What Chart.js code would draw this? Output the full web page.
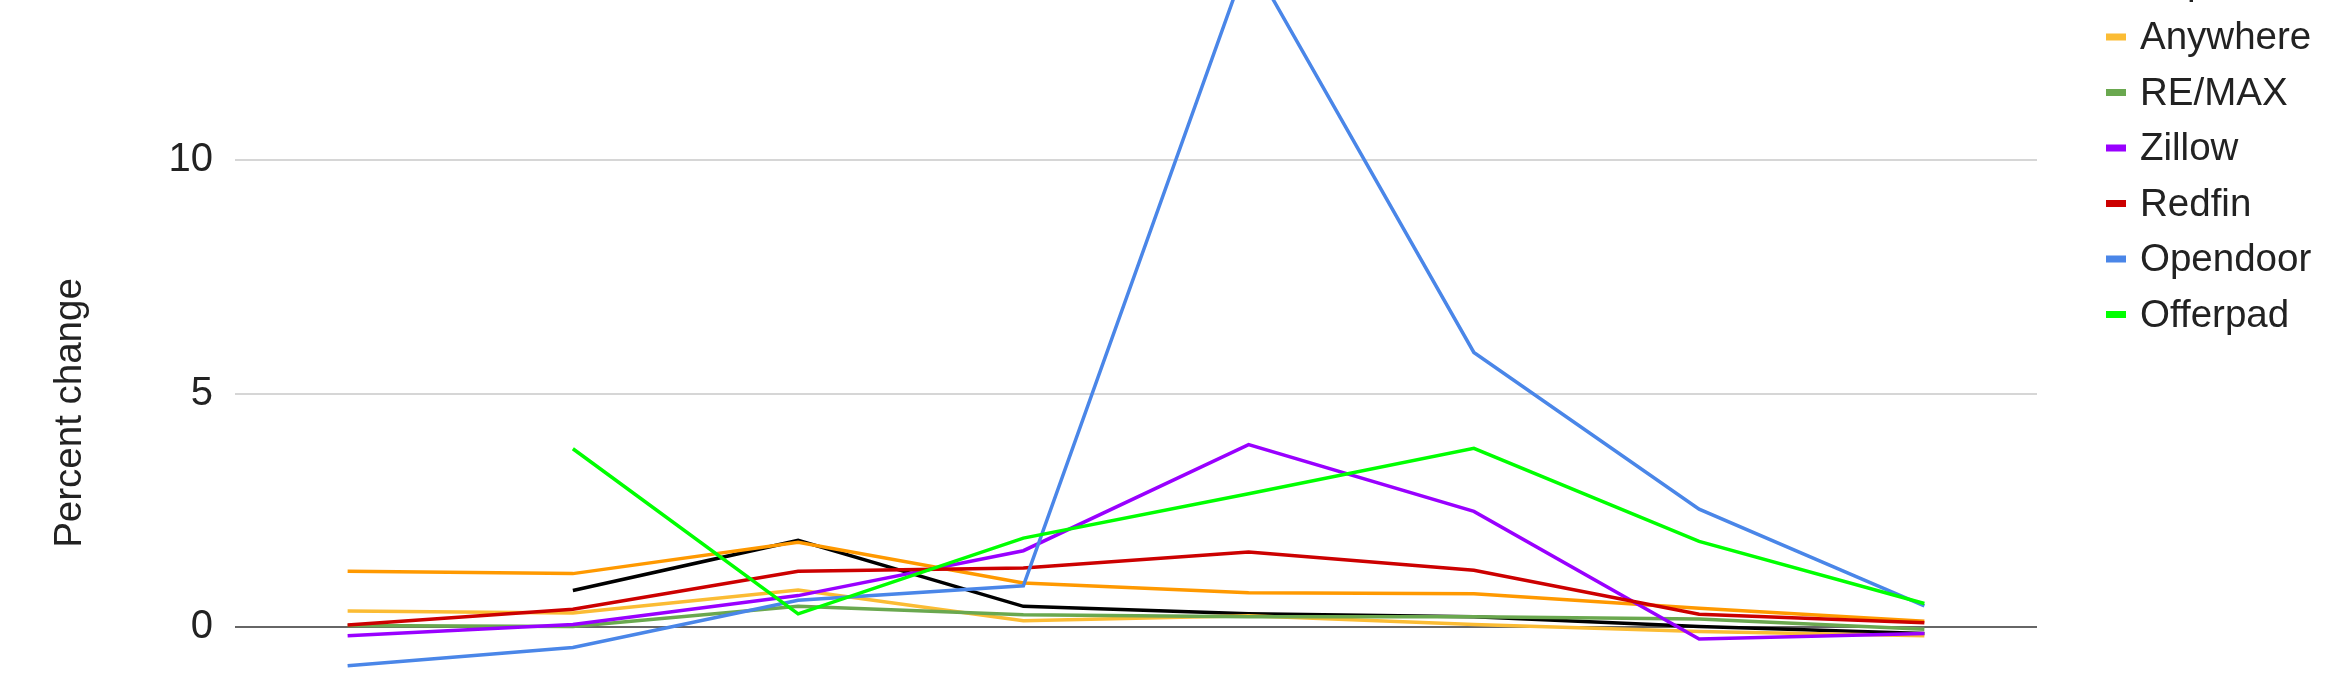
<!DOCTYPE html>
<html><head><meta charset="utf-8">
<script src="https://cdn.jsdelivr.net/npm/chart.js@4.4.1/dist/chart.umd.min.js"></script>
<style>
html,body{margin:0;padding:0;background:#fff;overflow:hidden;width:2340px;height:700px;}
#wrap{position:absolute;left:0;top:-134px;width:2340px;height:1094px;}
canvas{display:block;}
</style></head><body>
<div id="wrap"><canvas id="c" width="2340" height="1094"></canvas></div>
<script>
// Periods (x labels are cut off below the visible area of the reference)
const categories = ['P1', 'P2', 'P3', 'P4', 'P5', 'P6', 'P7', 'P8'];
const seriesNames = ['Compass', 'eXp', 'Anywhere', 'RE/MAX', 'Zillow', 'Redfin', 'Opendoor', 'Offerpad'];
const compass  = [null, 0.79, 1.86, 0.45, 0.29, 0.23, 0.02, -0.13];
const exp      = [1.20, 1.15, 1.82, 0.95, 0.74, 0.72, 0.41, 0.13];
const anywhere = [0.35, 0.31, 0.80, 0.14, 0.25, 0.06, -0.09, -0.18];
const remax    = [0.04, 0.02, 0.45, 0.27, 0.23, 0.23, 0.18, -0.04];
const zillow   = [-0.18, 0.06, 0.68, 1.64, 3.91, 2.48, -0.25, -0.13];
const redfin   = [0.05, 0.39, 1.20, 1.27, 1.61, 1.22, 0.28, 0.10];
const opendoor = [-0.82, -0.43, 0.58, 0.89, 14.35, 5.88, 2.53, 0.46];
const offerpad = [null, 3.82, 0.29, 1.91, 2.86, 3.83, 1.84, 0.51];
const yTicks = [0, 5, 10, 15];

const seriesValues = [compass, exp, anywhere, remax, zillow, redfin, opendoor, offerpad];
const seriesColors = ['#000000', '#ff9900', '#fbbc34', '#6aa84f', '#9900ff', '#cc0000', '#4a86e8', '#00ff00'];

const FONT = '"Liberation Sans", Arial, Helvetica, sans-serif';
const FS = 38.5;

const sideLegend = {
  id: 'sideLegend',
  afterDraw(chart) {
    const {ctx, chartArea} = chart;
    ctx.save();
    ctx.font = FS + 'px ' + FONT;
    ctx.textBaseline = 'alphabetic';
    ctx.textAlign = 'left';
    chart.data.datasets.forEach((ds, i) => {
      const y = chartArea.top + i * 55.5;
      ctx.fillStyle = ds.borderColor;
      ctx.fillRect(chartArea.right + 69, y - 3.5, 20, 7);
      ctx.fillStyle = '#222222';
      ctx.fillText(ds.label, chartArea.right + 103, y + 12);
    });
    ctx.restore();
  }
};

const datasets = seriesNames.map((name, i) => ({
  label: name,
  data: seriesValues[i],
  borderColor: seriesColors[i],
  backgroundColor: seriesColors[i],
  borderWidth: 3.5,
  pointRadius: 0,
  pointHoverRadius: 0,
  tension: 0,
  fill: false,
  spanGaps: false,
  order: seriesNames.length - i
}));

const chart = new Chart(document.getElementById('c'), {
  type: 'line',
  data: { labels: categories, datasets },
  options: {
    responsive: false,
    animation: false,
    devicePixelRatio: 1,
    layout: { padding: { left: 43, right: 303, top: 60, bottom: 60 } },
    plugins: { legend: { display: false }, tooltip: { enabled: false } },
    scales: {
      x: { type: 'category', offset: true, display: false },
      y: {
        min: -5.83,
        max: 15,
        afterFit: (s) => { s.width = 192; },
        afterBuildTicks: (s) => { s.ticks = yTicks.map(v => ({ value: v })); },
        border: { display: false },
        grid: {
          drawTicks: false,
          lineWidth: 2,
          color: (c) => (c.tick && c.tick.value === 0 ? '#666666' : '#d6d6d6')
        },
        ticks: {
          padding: 22,
          color: '#222222',
          font: { family: FONT, size: 40 },
          callback: (v) => String(v)
        },
        title: {
          display: true,
          text: 'Percent change',
          color: '#222222',
          font: { family: FONT, size: FS },
          padding: { top: 4, bottom: 4 }
        }
      }
    }
  },
  plugins: [sideLegend]
});

// place the plot so its top (value 15) sits just above the visible window, as in the cropped reference
const wrap = document.getElementById('wrap');
wrap.style.top = (-73.7 - chart.chartArea.top) + 'px';
</script>
</body></html>
